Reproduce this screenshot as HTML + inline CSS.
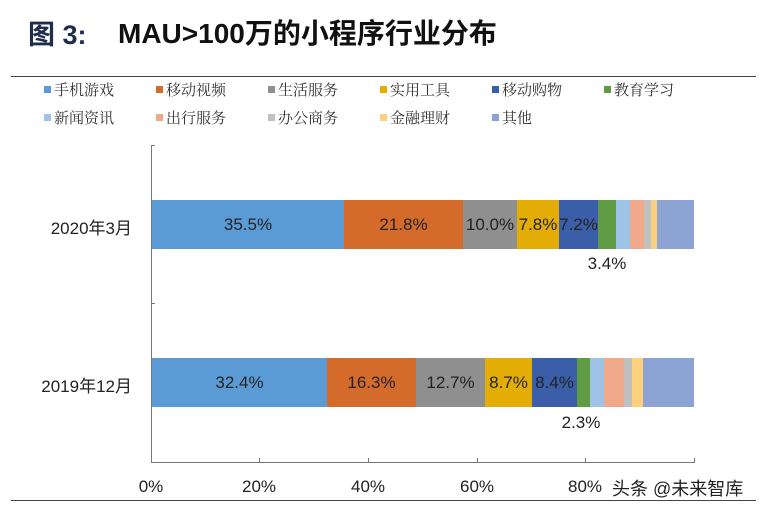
<!DOCTYPE html>
<html><head><meta charset="utf-8"><style>
body{margin:0;width:766px;height:505px;background:#fff;overflow:hidden;position:relative;font-family:"Liberation Sans","Noto Sans CJK SC",sans-serif;}
.a{position:absolute;white-space:nowrap;}
.leg{position:absolute;font-size:15px;color:#333;font-family:"Noto Serif CJK SC","Liberation Serif",serif;}
.leg i{display:inline-block;width:7px;height:7px;margin-right:3px;vertical-align:2px;}
.bar{position:absolute;height:49px;}
.lab{position:absolute;font-size:17px;color:#222;text-align:center;line-height:49px;}
</style></head><body>
<div class="a" style="left:28px;top:13px;font-size:27px;font-weight:bold;color:#1f2d4d;">图 3:</div>
<div class="a" style="left:118px;top:12px;font-size:28px;font-weight:bold;color:#111;">MAU&gt;100万的小程序行业分布</div>
<div class="a" style="left:11px;top:76px;width:745px;height:1px;background:#444;"></div>

<div class="leg" style="left:44px;top:79px;"><i style="background:#5b9bd5"></i>手机游戏</div>
<div class="leg" style="left:156px;top:79px;"><i style="background:#d46b2a"></i>移动视频</div>
<div class="leg" style="left:268px;top:79px;"><i style="background:#8f8f8f"></i>生活服务</div>
<div class="leg" style="left:380px;top:79px;"><i style="background:#e4ad05"></i>实用工具</div>
<div class="leg" style="left:492px;top:79px;"><i style="background:#3a5fa8"></i>移动购物</div>
<div class="leg" style="left:604px;top:79px;"><i style="background:#5f9c43"></i>教育学习</div>
<div class="leg" style="left:44px;top:107px;"><i style="background:#9ec3e6"></i>新闻资讯</div>
<div class="leg" style="left:156px;top:107px;"><i style="background:#f0a88a"></i>出行服务</div>
<div class="leg" style="left:268px;top:107px;"><i style="background:#c0c0c0"></i>办公商务</div>
<div class="leg" style="left:380px;top:107px;"><i style="background:#fdd07e"></i>金融理财</div>
<div class="leg" style="left:492px;top:107px;"><i style="background:#8da3d4"></i>其他</div>

<div class="a" style="left:151px;top:145px;width:1px;height:318px;background:#777;"></div>
<div class="a" style="left:151px;top:462px;width:544px;height:1px;background:#777;"></div>
<div class="a" style="left:151px;top:145px;width:4px;height:1px;background:#777;"></div>
<div class="a" style="left:151px;top:303px;width:4px;height:1px;background:#777;"></div>
<div class="a" style="left:259px;top:458px;width:1px;height:4px;background:#777;"></div>
<div class="a" style="left:368px;top:458px;width:1px;height:4px;background:#777;"></div>
<div class="a" style="left:477px;top:458px;width:1px;height:4px;background:#777;"></div>
<div class="a" style="left:585px;top:458px;width:1px;height:4px;background:#777;"></div>
<div class="a" style="left:694px;top:458px;width:1px;height:4px;background:#777;"></div>

<div class="a" style="left:30px;top:214px;width:102px;text-align:right;font-size:17px;color:#222;">2020年3月</div>
<div class="a" style="left:20px;top:372px;width:112px;text-align:right;font-size:17px;color:#222;">2019年12月</div>

<div class="bar" style="top:200px;left:152px;width:192px;background:#5b9bd5"></div>
<div class="bar" style="top:200px;left:344px;width:119px;background:#d46b2a"></div>
<div class="bar" style="top:200px;left:463px;width:54px;background:#8f8f8f"></div>
<div class="bar" style="top:200px;left:517px;width:42px;background:#e4ad05"></div>
<div class="bar" style="top:200px;left:559px;width:39px;background:#3a5fa8"></div>
<div class="bar" style="top:200px;left:598px;width:18px;background:#5f9c43"></div>
<div class="bar" style="top:200px;left:616px;width:14px;background:#9ec3e6"></div>
<div class="bar" style="top:200px;left:630px;width:14px;background:#f0a88a"></div>
<div class="bar" style="top:200px;left:644px;width:7px;background:#c0c0c0"></div>
<div class="bar" style="top:200px;left:651px;width:6px;background:#fdd07e"></div>
<div class="bar" style="top:200px;left:657px;width:37px;background:#8da3d4"></div>
<div class="lab" style="top:200px;left:152px;width:192px;">35.5%</div>
<div class="lab" style="top:200px;left:344px;width:119px;">21.8%</div>
<div class="lab" style="top:200px;left:463px;width:54px;">10.0%</div>
<div class="lab" style="top:200px;left:517px;width:42px;">7.8%</div>
<div class="lab" style="top:200px;left:559px;width:39px;">7.2%</div>
<div class="lab" style="top:249px;left:577px;width:60px;line-height:30px;">3.4%</div>

<div class="bar" style="top:358px;left:152px;width:175px;background:#5b9bd5"></div>
<div class="bar" style="top:358px;left:327px;width:89px;background:#d46b2a"></div>
<div class="bar" style="top:358px;left:416px;width:69px;background:#8f8f8f"></div>
<div class="bar" style="top:358px;left:485px;width:47px;background:#e4ad05"></div>
<div class="bar" style="top:358px;left:532px;width:45px;background:#3a5fa8"></div>
<div class="bar" style="top:358px;left:577px;width:13px;background:#5f9c43"></div>
<div class="bar" style="top:358px;left:590px;width:14px;background:#9ec3e6"></div>
<div class="bar" style="top:358px;left:604px;width:20px;background:#f0a88a"></div>
<div class="bar" style="top:358px;left:624px;width:8px;background:#c0c0c0"></div>
<div class="bar" style="top:358px;left:632px;width:11px;background:#fdd07e"></div>
<div class="bar" style="top:358px;left:643px;width:51px;background:#8da3d4"></div>
<div class="lab" style="top:358px;left:152px;width:175px;">32.4%</div>
<div class="lab" style="top:358px;left:327px;width:89px;">16.3%</div>
<div class="lab" style="top:358px;left:416px;width:69px;">12.7%</div>
<div class="lab" style="top:358px;left:485px;width:47px;">8.7%</div>
<div class="lab" style="top:358px;left:532px;width:45px;">8.4%</div>
<div class="lab" style="top:408px;left:551px;width:60px;line-height:30px;">2.3%</div>

<div class="a" style="left:121px;top:477px;width:60px;text-align:center;font-size:17px;color:#222;">0%</div>
<div class="a" style="left:229px;top:477px;width:60px;text-align:center;font-size:17px;color:#222;">20%</div>
<div class="a" style="left:338px;top:477px;width:60px;text-align:center;font-size:17px;color:#222;">40%</div>
<div class="a" style="left:447px;top:477px;width:60px;text-align:center;font-size:17px;color:#222;">60%</div>
<div class="a" style="left:555px;top:477px;width:60px;text-align:center;font-size:17px;color:#222;">80%</div>
<div class="a" style="left:612px;top:475px;font-size:18px;color:#222;">头条 @未来智库</div>
<div class="a" style="left:11px;top:500px;width:745px;height:1px;background:#444;"></div>
</body></html>
